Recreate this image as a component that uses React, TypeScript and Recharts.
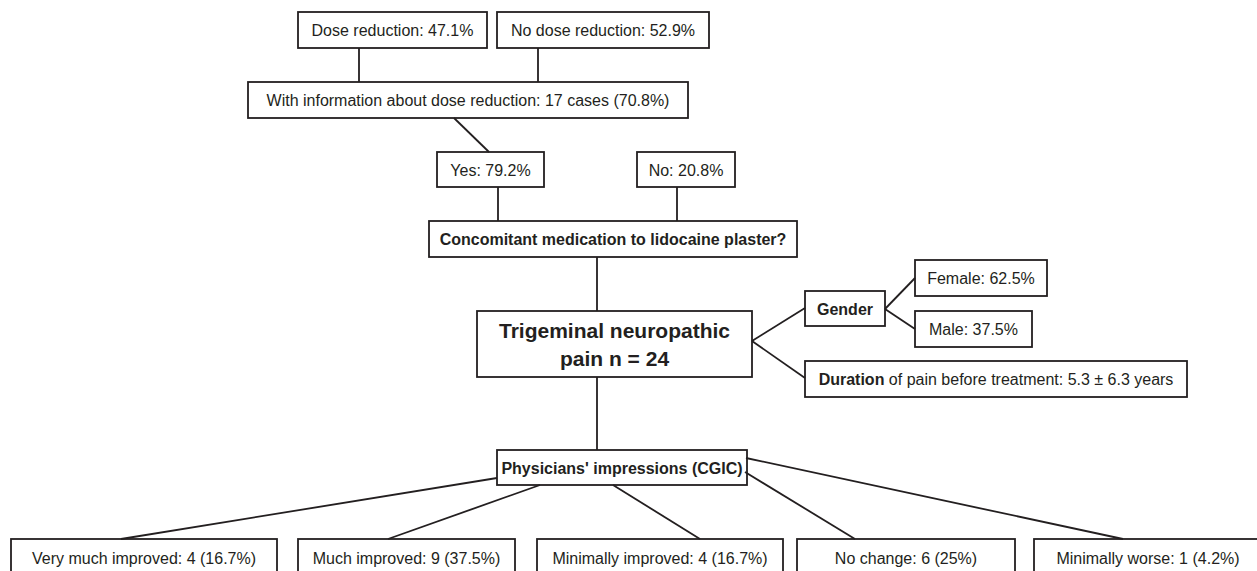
import React from 'react';
import { ComposedChart, XAxis, YAxis, ReferenceArea, ReferenceLine, Scatter } from 'recharts';

const doseLabels = ['Dose reduction', 'No dose reduction'];
const doseShares = [47.1, 52.9];
const doseInfoCases = 17;
const doseInfoShare = 70.8;
const concomitantLabels = ['Yes', 'No'];
const concomitantShares = [79.2, 20.8];
const totalPatients = 24;
const genderLabels = ['Female', 'Male'];
const genderShares = [62.5, 37.5];
const durationMean = 5.3;
const durationSd = 6.3;
const cgicLabels = ['Very much improved', 'Much improved', 'Minimally improved', 'No change', 'Minimally worse'];
const cgicCounts = [4, 9, 4, 6, 1];
const cgicShares = [16.7, 37.5, 16.7, 25, 4.2];

const W = 1257;
const H = 571;
const INK = '#231f20';
const FONT = '"Liberation Sans", Arial, Helvetica, sans-serif';

type Run = { t: string; bold?: boolean };
type Node = { x1: number; x2: number; y1: number; y2: number; lines: Run[][]; size?: number };

// layout grid, in axis units
const doseBoxes = [
  [298, 487],
  [497, 709],
];
const concomitantBoxes = [
  [437, 544],
  [637, 735],
];
const genderBoxes = [
  [260, 296, 1047],
  [311, 347, 1032],
];
const cgicBoxes = [
  [11, 277],
  [298, 515],
  [537, 783],
  [797, 1015],
  [1034, 1262],
];

const nodes: Node[] = [
  ...doseLabels.map((l, i) => ({
    x1: doseBoxes[i][0], x2: doseBoxes[i][1], y1: 12, y2: 48,
    lines: [[{ t: `${l}: ${doseShares[i]}%` }]],
  })),
  {
    x1: 248, x2: 688, y1: 82, y2: 118,
    lines: [[{ t: `With information about dose reduction: ${doseInfoCases} cases (${doseInfoShare}%)` }]],
  },
  ...concomitantLabels.map((l, i) => ({
    x1: concomitantBoxes[i][0], x2: concomitantBoxes[i][1], y1: 152, y2: 187,
    lines: [[{ t: `${l}: ${concomitantShares[i]}%` }]],
  })),
  { x1: 429, x2: 797, y1: 221, y2: 257, lines: [[{ t: 'Concomitant medication to lidocaine plaster?', bold: true }]] },
  {
    x1: 477, x2: 752, y1: 311, y2: 377, size: 21,
    lines: [[{ t: 'Trigeminal neuropathic', bold: true }], [{ t: `pain n = ${totalPatients}`, bold: true }]],
  },
  { x1: 805, x2: 885, y1: 291, y2: 326, lines: [[{ t: 'Gender', bold: true }]] },
  ...genderLabels.map((l, i) => ({
    x1: 915, x2: genderBoxes[i][2], y1: genderBoxes[i][0], y2: genderBoxes[i][1],
    lines: [[{ t: `${l}: ${genderShares[i]}%` }]],
  })),
  {
    x1: 805, x2: 1187, y1: 361, y2: 397,
    lines: [[{ t: 'Duration', bold: true }, { t: ` of pain before treatment: ${durationMean} ± ${durationSd} years` }]],
  },
  { x1: 497, x2: 747, y1: 450, y2: 485, lines: [[{ t: "Physicians' impressions (CGIC)", bold: true }]] },
  ...cgicLabels.map((l, i) => ({
    x1: cgicBoxes[i][0], x2: cgicBoxes[i][1], y1: 539, y2: 577,
    lines: [[{ t: `${l}: ${cgicCounts[i]} (${cgicShares[i]}%)` }]],
  })),
];

const links = [
  [359, 48, 359, 82],
  [538, 48, 538, 82],
  [454, 118, 489, 152],
  [498, 187, 498, 221],
  [677, 187, 677, 221],
  [597, 257, 597, 311],
  [752, 341, 805, 308],
  [752, 341, 805, 378],
  [885, 309, 915, 278],
  [885, 309, 915, 329],
  [597, 377, 597, 450],
  [497, 478, 121, 539],
  [540, 485, 388, 539],
  [613, 485, 700, 539],
  [745, 472, 855, 539],
  [746, 458, 1123, 539],
];

const boxShape = (node: Node) => (props: any) => {
  const { x, y, width, height } = props;
  const size = node.size ?? 16;
  const lh = size * 1.3;
  const cx = x + width / 2;
  const cy = y + height / 2;
  const n = node.lines.length;
  return (
    <g>
      <rect x={x} y={y} width={width} height={height} fill="#fff" stroke={INK} strokeWidth={1.8} />
      {node.lines.map((runs, i) => (
        <text
          key={i}
          x={cx}
          y={cy + (i - (n - 1) / 2) * lh}
          textAnchor="middle"
          dominantBaseline="central"
          fontFamily={FONT}
          fontSize={size}
          fill={INK}
        >
          {runs.map((r, j) => (
            <tspan key={j} fontWeight={r.bold ? 'bold' : 'normal'}>
              {r.t}
            </tspan>
          ))}
        </text>
      ))}
    </g>
  );
};

export default function App() {
  return (
    <div style={{ position: 'fixed', left: 0, top: 0, width: W, height: H, background: '#fff' }}>
      <ComposedChart width={W} height={H} margin={{ top: 0, right: 0, bottom: 0, left: 0 }}>
        <XAxis type="number" dataKey="x" domain={[0, W]} hide allowDataOverflow />
        <YAxis type="number" dataKey="y" domain={[0, H]} reversed hide allowDataOverflow />
        <Scatter data={[{ x: 0, y: 0 }]} fill="none" isAnimationActive={false} />
        {links.map((s, i) => (
          <ReferenceLine
            key={`l${i}`}
            segment={[{ x: s[0], y: s[1] }, { x: s[2], y: s[3] }]}
            stroke={INK}
            strokeWidth={1.8}
            ifOverflow="visible"
          />
        ))}
        {nodes.map((node, i) => (
          <ReferenceArea
            key={`n${i}`}
            x1={node.x1}
            x2={node.x2}
            y1={node.y1}
            y2={node.y2}
            ifOverflow="visible"
            shape={boxShape(node)}
          />
        ))}
      </ComposedChart>
    </div>
  );
}
